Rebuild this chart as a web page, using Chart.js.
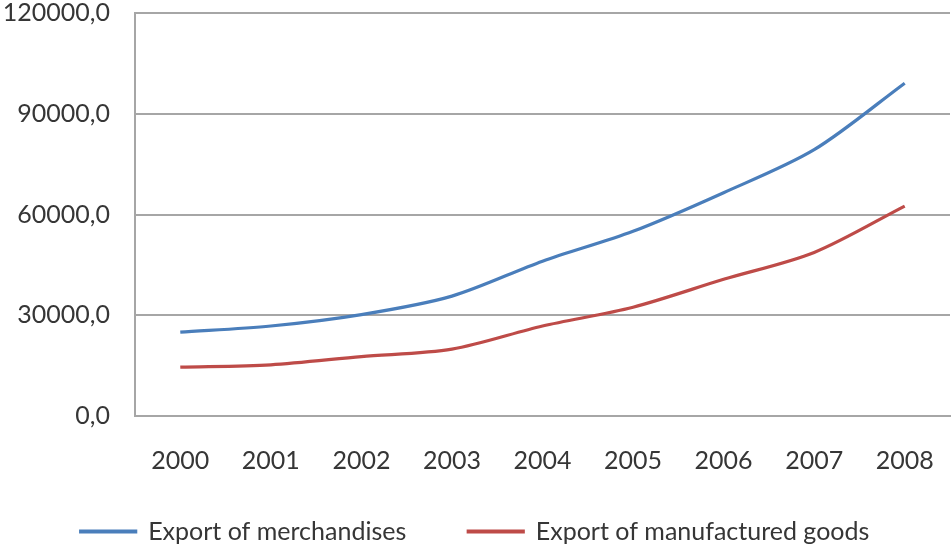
<!DOCTYPE html>
<html>
<head>
<meta charset="utf-8">
<script src="https://cdn.jsdelivr.net/npm/chart.js@4"></script>
<style>
  html, body { margin: 0; padding: 0; background: #ffffff; }
  #wrap { position: relative; width: 952px; height: 549px; }
</style>
</head>
<body>
<div id="wrap"><canvas id="c" width="952" height="549"></canvas></div>
<script>
const years = ["2000", "2001", "2002", "2003", "2004", "2005", "2006", "2007", "2008"];
const merchandises = [24950, 26800, 30200, 35700, 46100, 55000, 66500, 79300, 99100];
const manufactured = [14550, 15250, 17700, 19900, 26800, 32400, 40700, 48700, 62500];
const yTicks = [0, 30000, 60000, 90000, 120000];
const seriesNames = ["Export of merchandises", "Export of manufactured goods"];

Chart.defaults.font.family = "Lato, 'Open Sans', sans-serif";
Chart.defaults.font.size = 25;
Chart.defaults.color = "#363636";

// let the x tick labels extend below the (short) x-axis box without being clipped
const unclipXLabels = {
  id: "unclipXLabels",
  afterLayout(chart) { chart.scales.x.bottom = chart.height; }
};

new Chart(document.getElementById("c"), {
  type: "line",
  data: {
    labels: years,
    datasets: [
      { label: seriesNames[0], data: merchandises, borderColor: "#4A7EBB", backgroundColor: "#4A7EBB",
        borderWidth: 3.2, pointRadius: 0, tension: 0.3 },
      { label: seriesNames[1], data: manufactured, borderColor: "#BE4B48", backgroundColor: "#BE4B48",
        borderWidth: 3.2, pointRadius: 0, tension: 0.3 }
    ]
  },
  plugins: [unclipXLabels],
  options: {
    responsive: false,
    animation: false,
    layout: { padding: { left: 0, right: 2, top: 13, bottom: -5 } },
    plugins: {
      tooltip: { enabled: false },
      legend: {
        position: "bottom",
        labels: {
          boxWidth: 55, boxHeight: 1, padding: 62,
          font: { size: 25 }, color: "#363636"
        }
      }
    },
    scales: {
      x: {
        offset: true,
        grid: { display: false, drawTicks: false },
        border: { display: true, color: "#a6a6a6", width: 2 },
        ticks: { padding: 30, font: { size: 25 }, color: "#363636", maxRotation: 0, autoSkip: false },
        afterFit: (s) => { s.height = 41; s.paddingLeft = 0; s.paddingRight = 0; }
      },
      y: {
        min: 0, max: 120000,
        afterBuildTicks: (s) => { s.ticks = yTicks.map(v => ({ value: v })); },
        grid: { color: "#a6a6a6", lineWidth: 2, drawTicks: false },
        border: { display: true, color: "#a6a6a6", width: 2 },
        ticks: {
          padding: 25, font: { size: 25 }, color: "#363636",
          callback: (v) => v.toFixed(1).replace(".", ",")
        },
        afterFit: (s) => { s.width = 135; s.paddingTop = 0; s.paddingBottom = 0; }
      }
    }
  }
});
</script>
</body>
</html>
